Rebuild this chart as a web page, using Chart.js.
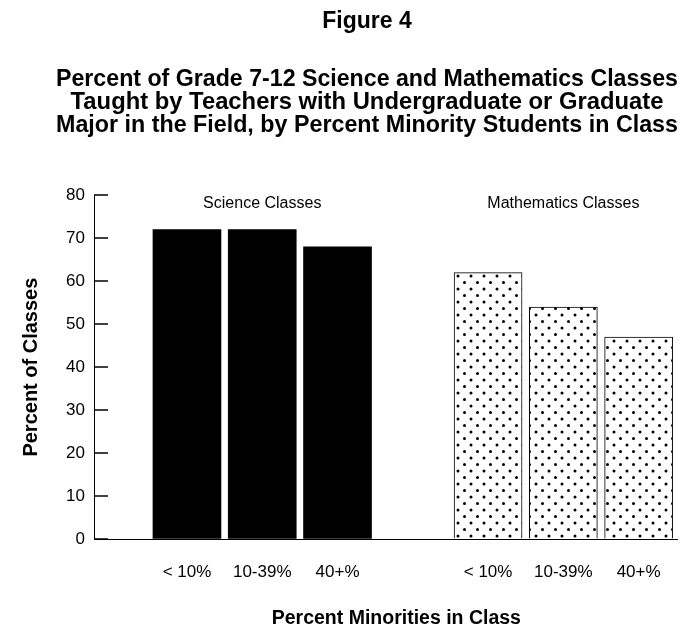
<!DOCTYPE html>
<html>
<head>
<meta charset="utf-8">
<script src="https://cdn.jsdelivr.net/npm/chart.js@4.4.1/dist/chart.umd.min.js"></script>
<style>
    html, body { margin: 0; padding: 0; background: #fff; }
    #wrap { width: 684px; height: 628px; }
</style>
</head>
<body>
<div id="wrap"><canvas id="chart"></canvas></div>
<script>
// Categories along the x axis ('' is the gap between the two groups)
const categories = ['< 10%', '10-39%', '40+%', '', '< 10%', '10-39%', '40+%'];
const groupNames = ['Science Classes', 'Mathematics Classes'];
const scienceValues = [72, 72, 68];
const mathValues = [62, 54, 47];
const yTicks = [0, 10, 20, 30, 40, 50, 60, 70, 80];

const FONT = '"Liberation Sans", Arial, Helvetica, sans-serif';

// dotted fill for the mathematics bars
function dotPattern() {
    const c = document.createElement('canvas');
    c.width = 13; c.height = 13;
    const g = c.getContext('2d');
    g.fillStyle = '#fff';
    g.fillRect(0, 0, 13, 13);
    g.fillStyle = '#000';
    [[3, 3], [9.5, 9.5]].forEach(([px, py]) => {
        g.beginPath(); g.arc(px, py, 1.5, 0, Math.PI * 2); g.fill();
    });
    return g.createPattern(c, 'repeat');
}

const mathStart = categories.length - mathValues.length;
const tickPositions = categories.map((c, i) => i).filter(i => categories[i] !== '');

// y ticks drawn inside the plot + group captions
const extras = {
    id: 'extras',
    afterDatasetsDraw(chart) {
        const { ctx, scales: { x, y } } = chart;
        ctx.save();
        ctx.strokeStyle = '#000';
        ctx.lineWidth = 1.5;
        y.ticks.forEach(t => {
            const py = Math.round(y.getPixelForValue(t.value));
            ctx.beginPath();
            ctx.moveTo(chart.chartArea.left, py);
            ctx.lineTo(chart.chartArea.left + 14, py);
            ctx.stroke();
        });
        ctx.fillStyle = '#000';
        ctx.font = '16px ' + FONT;
        ctx.textAlign = 'center';
        ctx.textBaseline = 'middle';
        const centers = [1, mathStart + 1];
        groupNames.forEach((g, i) => {
            ctx.fillText(g, x.getPixelForValue(centers[i]), y.top + 8);
        });
        ctx.restore();
    }
};

new Chart(document.getElementById('chart'), {
    type: 'bar',
    data: {
        datasets: [
            {
                label: groupNames[0],
                data: scienceValues.map((v, i) => ({ x: i, y: v })),
                backgroundColor: '#000',
                borderWidth: 0
            },
            {
                label: groupNames[1],
                data: mathValues.map((v, i) => ({ x: mathStart + i, y: v })),
                backgroundColor: dotPattern(),
                borderColor: '#000',
                borderWidth: 1
            }
        ]
    },
    options: {
        responsive: true, maintainAspectRatio: false, animation: false,
        layout: { padding: { left: 56, right: 6, top: 0, bottom: 0 } },
        datasets: { bar: { grouped: false, barThickness: 68 } },
        plugins: {
            legend: { display: false },
            tooltip: { enabled: false },
            title: {
                display: true, text: 'Figure 4', color: '#000',
                font: { family: FONT, size: 23, weight: 'bold', lineHeight: 1 },
                padding: { top: 10.5, bottom: 34.5 }
            },
            subtitle: {
                display: true, color: '#000',
                text: [
                    'Percent of Grade 7-12 Science and Mathematics Classes',
                    'Taught by Teachers with Undergraduate or Graduate',
                    'Major in the Field, by Percent Minority Students in Class'
                ],
                font: { family: FONT, size: 23.8, weight: 'bold', lineHeight: 0.97 },
                padding: { top: 0, bottom: 58 }
            }
        },
        scales: {
            x: {
                type: 'linear', min: -1.235, max: 6.51, offset: false,
                afterBuildTicks: s => { s.ticks = tickPositions.map(v => ({ value: v })); },
                afterFit: s => { s.height = 89; },
                ticks: {
                    color: '#000', autoSkip: false, maxRotation: 0, padding: 23,
                    font: { family: FONT, size: 17 },
                    callback: v => categories[v]
                },
                grid: { offset: false, drawOnChartArea: false, drawTicks: false },
                border: { display: true, color: '#000', width: 1 },
                title: {
                    display: true, text: '    Percent Minorities in Class', color: '#000',
                    font: { family: FONT, size: 19.5, weight: 'bold', lineHeight: 1 },
                    padding: { top: 0, bottom: 0 }
                }
            },
            y: {
                min: 0, max: 80,
                afterBuildTicks: s => { s.ticks = yTicks.map(v => ({ value: v })); },
                afterFit: s => { s.width = 38; },
                ticks: { color: '#000', padding: 9, font: { family: FONT, size: 17 } },
                grid: { drawOnChartArea: false, drawTicks: false },
                border: { display: true, color: '#000', width: 1 },
                title: {
                    display: true, text: 'Percent of Classes', color: '#000',
                    font: { family: FONT, size: 20, weight: 'bold', lineHeight: 1 },
                    padding: { top: -35, bottom: 0 }
                }
            }
        }
    },
    plugins: [extras]
});
</script>
</body>
</html>
